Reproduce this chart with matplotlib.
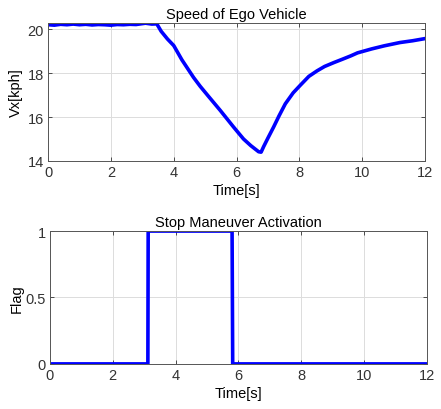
import numpy as np
import matplotlib.pyplot as plt

plt.rcParams['font.family'] = ['Liberation Sans', 'DejaVu Sans']

# speed of ego vehicle
timeSpeed = [0.0, 0.2, 0.4, 0.6, 0.8, 1.0, 1.2, 1.4, 1.6, 1.8, 2.0, 2.2, 2.4, 2.6,
             2.8, 3.0, 3.1, 3.3, 3.46, 3.6, 3.8, 4.0, 4.26, 4.63, 4.84, 5.1, 5.48,
             5.9, 6.22, 6.45, 6.7, 6.78, 6.86, 7.0, 7.18, 7.35, 7.55, 7.8, 8.03,
             8.3, 8.56, 8.8, 9.1, 9.35, 9.63, 9.85, 10.05, 10.3, 10.7, 11.0, 11.2,
             11.6, 12.0]
speedList = [20.2, 20.18, 20.22, 20.2, 20.23, 20.2, 20.22, 20.19, 20.21, 20.2,
             20.18, 20.21, 20.2, 20.22, 20.21, 20.25, 20.27, 20.23, 20.24, 19.9,
             19.55, 19.25, 18.6, 17.8, 17.4, 16.95, 16.3, 15.55, 15.0, 14.7, 14.42,
             14.4, 14.65, 15.05, 15.55, 16.05, 16.6, 17.1, 17.45, 17.85, 18.1,
             18.3, 18.48, 18.62, 18.78, 18.92, 19.0, 19.1, 19.24, 19.33, 19.39,
             19.47, 19.57]

# stop maneuver flag
timeFlag = [0.0, 3.12, 3.13, 5.8, 5.82, 12.0]
flagList = [0, 0, 1, 1, 0, 0]

fig = plt.figure(figsize=(4.41, 4.10), dpi=100)
ax1 = fig.add_axes([0.109, 0.605, 0.855, 0.336])
ax2 = fig.add_axes([0.113, 0.110, 0.855, 0.324])

ax1.plot(timeSpeed, speedList, color=(0, 0, 1), lw=2.6)
ax1.set_xlim(0, 12)
ax1.set_ylim(14, 20.27)
ax1.set_xticks(np.arange(0, 13, 2))
ax1.set_yticks([14, 16, 18, 20])
ax1.set_title('Speed of Ego Vehicle', fontsize=10.5, pad=4)
ax1.set_xlabel('Time[s]', fontsize=10.5, labelpad=3)
ax1.set_ylabel('Vx[kph]', fontsize=10.5, labelpad=3)

ax2.plot(timeFlag, flagList, color=(0, 0, 1), lw=2.6)
ax2.set_xlim(0, 12)
ax2.set_ylim(0, 1)
ax2.set_xticks(np.arange(0, 13, 2))
ax2.set_yticks([0, 0.5, 1])
ax2.set_yticklabels(['0', '0.5', '1'])
ax2.set_title('Stop Maneuver Activation', fontsize=10.5, pad=4)
ax2.set_xlabel('Time[s]', fontsize=10.5, labelpad=3)
ax2.set_ylabel('Flag', fontsize=10.5, labelpad=1)

for ax in (ax1, ax2):
    ax.grid(True, color='#dcdcdc', lw=0.7)
    ax.set_axisbelow(True)
    ax.tick_params(direction='in', length=3, width=0.6, labelsize=10.5,
                   top=True, right=True, colors='#333333', pad=3)
    for s in ax.spines.values():
        s.set_color('#555555')
        s.set_linewidth(0.7)

fig.savefig('out.png', dpi=100)
